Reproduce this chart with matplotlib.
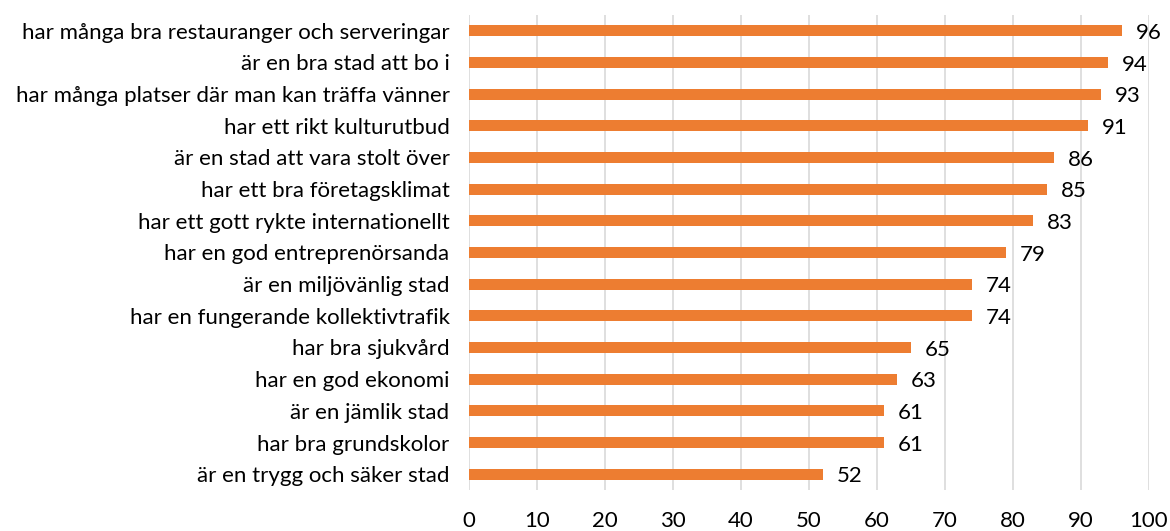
import matplotlib.pyplot as plt

# survey statements, top to bottom as shown
categories = [
    "har många bra restauranger och serveringar",
    "är en bra stad att bo i",
    "har många platser där man kan träffa vänner",
    "har ett rikt kulturutbud",
    "är en stad att vara stolt över",
    "har ett bra företagsklimat",
    "har ett gott rykte internationellt",
    "har en god entreprenörsanda",
    "är en miljövänlig stad",
    "har en fungerande kollektivtrafik",
    "har bra sjukvård",
    "har en god ekonomi",
    "är en jämlik stad",
    "har bra grundskolor",
    "är en trygg och säker stad",
]
values = [96, 94, 93, 91, 86, 85, 83, 79, 74, 74, 65, 63, 61, 61, 52]
xticks = list(range(0, 101, 10))

plt.rcParams["font.family"] = ["Lato", "DejaVu Sans"]
FS = 16

fig = plt.figure(figsize=(11.7, 5.31), dpi=100)
ax = fig.add_axes([0.4009, 0.0772, 0.581, 0.8946])

ypos = list(range(len(categories)))[::-1]
ax.barh(ypos, values, height=0.35, color="#ED7D31", zorder=3)

for y, v in zip(ypos, values):
    ax.annotate(str(v), (v, y), xytext=(10, -1.5), textcoords="offset points",
                ha="left", va="center", fontsize=FS, color="#000000")

ax.set_xlim(0, 100)
ax.set_ylim(-0.5, len(categories) - 0.5)
ax.set_xticks(xticks)
ax.set_yticks(ypos)
ax.set_yticklabels(categories)
ax.tick_params(axis="both", length=0, labelsize=FS, colors="#000000")
ax.tick_params(axis="x", pad=15)
ax.tick_params(axis="y", pad=14)
ax.grid(axis="x", color="#D9D9D9", lw=1.2, zorder=0)
for s in ax.spines.values():
    s.set_visible(False)

fig.savefig("out.png", dpi=100)
